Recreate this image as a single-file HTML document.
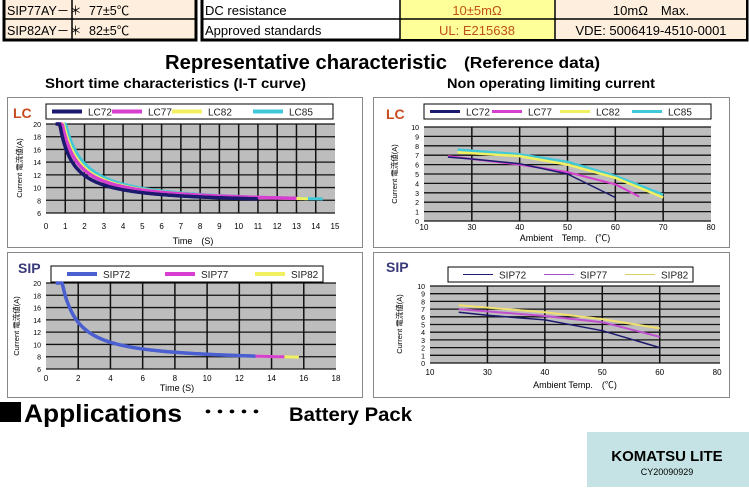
<!DOCTYPE html>
<html><head><meta charset="utf-8"><style>
body{margin:0;background:#fff;width:749px;height:496px;overflow:hidden}
svg{display:block;font-family:"Liberation Sans","Noto Sans CJK JP",sans-serif}
</style></head><body>
<svg id="s" width="749" height="496" viewBox="0 0 749 496" xmlns="http://www.w3.org/2000/svg">
<rect x="4" y="-2" width="192" height="42" fill="#fdeedd" stroke="#000" stroke-width="3"/>
<line x1="4" y1="19" x2="196" y2="19" stroke="#000" stroke-width="1.5"/>
<line x1="72" y1="0" x2="72" y2="40" stroke="#000" stroke-width="1.5"/>
<text x="7" y="15" font-size="12.5">SIP77AY－＊</text><text x="89" y="15" font-size="12.5">77±5℃</text>
<text x="7" y="35" font-size="12.5">SIP82AY－＊</text><text x="89" y="35" font-size="12.5">82±5℃</text>
<rect x="202" y="-2" width="545" height="42" fill="#fff" stroke="#000" stroke-width="3"/>
<rect x="400" y="0" width="155" height="39" fill="#ffff99"/>
<rect x="555" y="0" width="191" height="39" fill="#fdeedd"/>
<line x1="202" y1="19" x2="747" y2="19" stroke="#000" stroke-width="1.5"/>
<line x1="400" y1="0" x2="400" y2="40" stroke="#000" stroke-width="1.5"/>
<line x1="555" y1="0" x2="555" y2="40" stroke="#000" stroke-width="1.5"/>
<text x="205" y="15" font-size="13">DC resistance</text><text x="205" y="35" font-size="13">Approved standards</text>
<text x="477" y="15" font-size="13" fill="#c0501a" text-anchor="middle">10±5mΩ</text>
<text x="477" y="35" font-size="13" fill="#c0501a" text-anchor="middle">UL: E215638</text>
<text x="651" y="15" font-size="13" text-anchor="middle">10mΩ　Max.</text>
<text x="651" y="35" font-size="13" text-anchor="middle">VDE: 5006419-4510-0001</text>
<text x="165" y="69" font-size="20" font-weight="bold" textLength="282" lengthAdjust="spacingAndGlyphs">Representative characteristic</text>
<text x="464" y="68" font-size="16" font-weight="bold" textLength="136" lengthAdjust="spacingAndGlyphs">(Reference data)</text>
<text x="45" y="88" font-size="14" font-weight="bold" textLength="261" lengthAdjust="spacingAndGlyphs">Short time characteristics   (I-T curve)</text>
<text x="447" y="88" font-size="14" font-weight="bold" textLength="208" lengthAdjust="spacingAndGlyphs">Non operating limiting current</text>
<rect x="7.5" y="97.5" width="355" height="150" fill="#fff" stroke="#888"/>
<rect x="373.5" y="97.5" width="356" height="150" fill="#fff" stroke="#888"/>
<rect x="7.5" y="252.5" width="355" height="145" fill="#fff" stroke="#888"/>
<rect x="373.5" y="252.5" width="356" height="145" fill="#fff" stroke="#888"/>
<g id="g"></g>
<rect x="0" y="402" width="21" height="20" fill="#000"/>
<text x="24" y="422" font-size="25" font-weight="bold" textLength="158" lengthAdjust="spacingAndGlyphs">Applications</text>
<text x="202" y="419" font-size="20" font-weight="bold" textLength="60" lengthAdjust="spacingAndGlyphs">･････</text>
<text x="289" y="421" font-size="19" font-weight="bold" textLength="123" lengthAdjust="spacingAndGlyphs">Battery Pack</text>
<rect x="587" y="432" width="162" height="55" fill="#c5e3e5"/>
<text x="667" y="461" font-size="15" font-weight="bold" text-anchor="middle">KOMATSU LITE</text>
<text x="667" y="475" font-size="9" text-anchor="middle">CY20090929</text>
</svg>
<script>
var o='';
function T(x,y,t,sz,extra){o+='<text x="'+x+'" y="'+y+'" font-size="'+sz+'" '+(extra||'')+'>'+t+'</text>';}
function L(x1,y1,x2,y2,c,w){o+='<line x1="'+x1+'" y1="'+y1+'" x2="'+x2+'" y2="'+y2+'" stroke="'+c+'" stroke-width="'+w+'"/>';}
function P(pts,c,w){o+='<polyline fill="none" stroke="'+c+'" stroke-width="'+w+'" stroke-linejoin="round" points="'+pts.map(p=>p[0].toFixed(1)+','+p[1].toFixed(1)).join(' ')+'"/>';}
function chart(c){
  var X=v=>c.x0+(v-c.xmin)/(c.xmax-c.xmin)*(c.x1-c.x0), Y=v=>c.y1-(v-c.ymin)/(c.ymax-c.ymin)*(c.y1-c.y0);
  o+='<rect x="'+c.x0+'" y="'+c.y0+'" width="'+(c.x1-c.x0)+'" height="'+(c.y1-c.y0)+'" fill="#bdbdbd"/>';
  for(var v=c.ymin;v<=c.ymax;v+=c.ys){L(c.x0,Y(v),c.x1,Y(v),'#111',1.3);T(c.x0-5,Y(v)+3,v,7,'text-anchor="end"');}
  c.vl.forEach(v=>L(X(v),c.y0,X(v),c.y1,'#111',1.5));
  c.xl.forEach(v=>T(X(v[0]),c.y1+c.lo,v[1],8,'text-anchor="middle"'));
  T(c.xt[0],c.xt[1],c.xt[2],9,'text-anchor="middle"');
  T(c.yt[0],c.yt[1],c.yt[2],7.5,'text-anchor="middle" transform="rotate(-90 '+c.yt[0]+' '+c.yt[1]+')"');
  o+='<rect x="'+c.lb[0]+'" y="'+c.lb[1]+'" width="'+c.lb[2]+'" height="'+c.lb[3]+'" fill="#fff" stroke="#000"/>';
  c.leg.forEach(l=>{L(l[0],c.lb[1]+c.lb[3]/2,l[0]+30,c.lb[1]+c.lb[3]/2,l[2],c.lw);T(l[0]+36,c.lb[1]+c.lb[3]/2+4,l[1],10,'fill="#222"');});
  T(c.lab[0],c.lab[1],c.lab[2],14,'font-weight="bold" fill="'+c.lab[3]+'"');
  c.series.forEach(s=>{var pts=[];
    if(s.f){for(var t=s.a;t<=s.b+1e-6;t+=0.05){var v=Math.min(20,s.f(t));pts.push([X(t),Y(v)]);}}
    else pts=s.p.map(p=>[X(p[0]),Y(p[1])]);
    P(pts,s.c,s.w);});
}
var r=(c,k)=>t=>c+k/t;
var xs=[];for(var i=0;i<=15;i++)xs.push([i,i]);
chart({x0:46,x1:335,y0:124,y1:213,xmin:0,xmax:15,ymin:6,ymax:20,ys:2,lo:16,vl:[1,2,3,4,5,6,7,8,9,10,11,12,13,14],xl:xs,
 xt:[193,244,'Time　(S)'],yt:[22,168,'Current 電流値(A)'],lb:[46,104,287,15],lw:4,
 leg:[[52,'LC72','#1c1a6e'],[112,'LC77','#d63fd0'],[172,'LC82','#f0f060'],[253,'LC85','#40c8d8']],
 lab:[13,118,'LC','#c84b1e'],
 series:[{f:r(7.3,13),a:0.66,b:14.4,c:'#40c8d8',w:3},{f:r(7.4,11.5),a:0.6,b:13.6,c:'#f0f060',w:3},
 {f:r(7.5,10.5),a:0.55,b:13,c:'#d63fd0',w:3.5},{f:r(7.4,9),a:0.5,b:11,c:'#1c1a6e',w:3.5}]});
chart({x0:424,x1:711,y0:127,y1:221,xmin:20,xmax:80,ymin:0,ymax:10,ys:1,lo:9,vl:[30,40,50,60,70],
 xl:[[20,10],[30,30],[40,40],[50,50],[60,60],[70,70],[80,80]],
 xt:[565,241,'Ambient　Temp.　(℃)'],yt:[397,174,'Current 電流値(A)'],lb:[424,104,287,15],lw:3,
 leg:[[430,'LC72','#1c1a6e'],[492,'LC77','#d63fd0'],[560,'LC82','#f0f060'],[632,'LC85','#40c8d8']],
 lab:[386,119,'LC','#c84b1e'],
 series:[{p:[[27,7.6],[40,7.1],[50,6.3],[60,4.8],[70,2.8]],c:'#40c8d8',w:2.5},
 {p:[[27,7.3],[40,6.9],[50,6.0],[60,4.6],[70,2.5]],c:'#f0f060',w:2.5},
 {p:[[25,6.9],[40,6.0],[50,5.2],[60,3.9],[65,2.6]],c:'#d63fd0',w:2},
 {p:[[25,6.8],[30,6.6],[40,6.1],[50,5.0],[60,2.5]],c:'#1c1a6e',w:1.5}]});
var xs2=[];for(var i=0;i<=18;i+=2)xs2.push([i,i]);
chart({x0:46,x1:336,y0:283,y1:369,xmin:0,xmax:18,ymin:6,ymax:20,ys:2,lo:12,vl:[2,4,6,8,10,12,14,16],xl:xs2,
 xt:[177,391,'Time (S)'],yt:[19,326,'Current 電流値(A)'],lb:[51,266,272,16],lw:4,
 leg:[[67,'SIP72','#4a5fd0'],[165,'SIP77','#d63fd0'],[255,'SIP82','#f0f060']],
 lab:[18,273,'SIP','#3a3a7a'],
 series:[{f:r(7.1,13),a:0.6,b:15.7,c:'#f0f060',w:3},{f:r(7.1,13),a:0.6,b:14.8,c:'#d63fd0',w:3},{f:r(7.1,13),a:0.6,b:13,c:'#4a5fd0',w:3.5}]});
chart({x0:430,x1:720,y0:286,y1:363,xmin:20,xmax:70.5,ymin:0,ymax:10,ys:1,lo:12,vl:[30,40,50,60],
 xl:[[20,10],[30,30],[40,40],[50,50],[60,60],[70,80]],
 xt:[575,388,'Ambient Temp.　(℃)'],yt:[402,324,'Current 電流値(A)'],lb:[448,267,245,15],lw:1,
 leg:[[463,'SIP72','#1c1a6e'],[544,'SIP77','#a050d0'],[625,'SIP82','#e0d060']],
 lab:[386,272,'SIP','#3a3a7a'],
 series:[{p:[[25,7.5],[40,6.6],[50,5.7],[60,4.5]],c:'#f0e070',w:2},
 {p:[[25,7.0],[40,6.1],[50,5.3],[60,3.4]],c:'#c050d0',w:2},
 {p:[[25,6.6],[30,6.2],[40,5.6],[50,4.2],[60,2.0]],c:'#1c1a6e',w:1.5}]});
document.getElementById('g').innerHTML=o;
</script>
</body></html>
